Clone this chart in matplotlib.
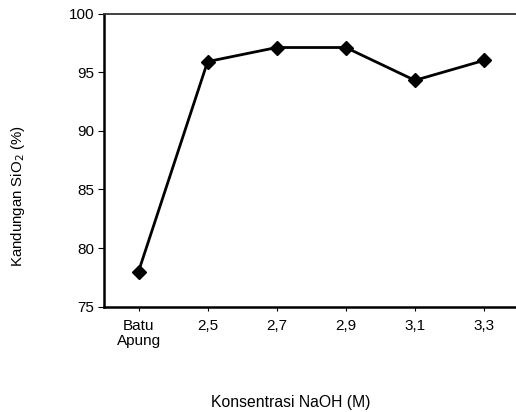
import matplotlib
matplotlib.use("Agg")
import matplotlib.pyplot as plt

plt.rcParams['font.family'] = ['Liberation Sans', 'DejaVu Sans']

categories = ["Batu\nApung", "2,5", "2,7", "2,9", "3,1", "3,3"]
sio2 = [78.0, 95.9, 97.1, 97.1, 94.3, 96.0]

W, H = 516, 412
fig = plt.figure(figsize=(W / 100, H / 100), dpi=100)
ax = fig.add_axes([104 / W, 1 - 306.7 / H, 414.5 / W, 293.2 / H])

x = list(range(len(categories)))
ax.plot(x, sio2, color="black", linewidth=2.0, marker="D", markersize=7)

ax.set_xlim(-0.5, len(categories) - 0.5)
ax.set_ylim(75, 100)
ax.set_yticks([75, 80, 85, 90, 95, 100])
ax.set_xticks(x)
ax.set_xticklabels(categories, fontsize=11, linespacing=1.05)
ax.tick_params(axis="y", labelsize=11, length=4, width=0.8, direction="out", pad=3)
ax.tick_params(axis="x", length=3, width=0.8, direction="out", pad=6)

ax.spines["right"].set_visible(False)
ax.spines["left"].set_linewidth(1.8)
ax.spines["bottom"].set_linewidth(1.8)
ax.spines["top"].set_linewidth(1.3)
ax.spines["top"].set_color("#333333")

fig.text(18 / W, 1 - 196 / H, "Kandungan SiO$_2$ (%)", rotation=90,
         ha="center", va="center", fontsize=10.8)
fig.text(291 / W, 1 - 402 / H, "Konsentrasi NaOH (M)",
         ha="center", va="center", fontsize=11.3)

fig.savefig("out.png", dpi=100)
